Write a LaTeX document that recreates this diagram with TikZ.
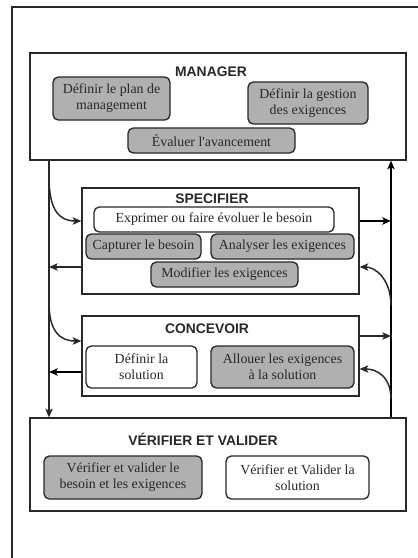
\documentclass[tikz,border=0pt]{standalone}
\usepackage{fontspec}
\setmainfont{Liberation Serif}
\setsansfont{Liberation Sans}
\usetikzlibrary{arrows.meta,calc}

\definecolor{taskgray}{RGB}{176,176,176}
\definecolor{ink}{RGB}{40,40,40}

\tikzset{
  phasebox/.style={draw=ink, line width=0.9pt, rectangle, inner sep=0pt},
  phasetitle/.style={font=\sffamily\bfseries\fontsize{10.4}{12}\selectfont, text=ink, inner sep=0pt},
  task/.style={draw=ink, line width=1pt, rounded corners=4pt, align=center, inner sep=0pt,
    font=\fontsize{10.4}{12}\selectfont, text=ink},
  graytask/.style={task, fill=taskgray},
  whitetask/.style={task, fill=white},
  tip/.style={-{Stealth[length=6.5pt,width=5.5pt,inset=1.5pt]}},
  thinflow/.style={tip, line width=0.9pt, draw=ink},
  thickflow/.style={tip, line width=1.6pt, draw=black},
}

\begin{document}
\begin{tikzpicture}[x=0.75pt,y=-0.75pt]
  \useasboundingbox[fill=white] (0,0) rectangle (418,558);

  % page frame (top and left edges)
  \draw[draw=ink, line width=1.1pt] (12,558) -- (12,7) -- (418,7);

  % helper abscissae of the two vertical flows
  \coordinate (lx) at (49,0);
  \coordinate (rx) at (391,0);

  % MANAGER
  \node[phasebox, minimum width=376*0.75pt, minimum height=107*0.75pt] (manager) at (218,106.5) {};
  \node[phasetitle] (managerT) at (211,72) {MANAGER};
  \node[graytask, minimum width=117*0.75pt, minimum height=43*0.75pt] (plan) at (111.5,98.5)
    {Définir le plan de\\management};
  \node[graytask, minimum width=120*0.75pt, minimum height=42*0.75pt] (gestion) at (308,103)
    {Définir la gestion\\des exigences};
  \node[graytask, minimum width=167*0.75pt, minimum height=25*0.75pt] (evaluer) at (211.5,140.5)
    {Évaluer l\textquotesingle avancement};

  % SPECIFIER
  \node[phasebox, minimum width=277*0.75pt, minimum height=106*0.75pt] (spec) at (220.5,241) {};
  \node[phasetitle] (specT) at (212,199) {SPECIFIER};
  \node[whitetask, minimum width=240*0.75pt, minimum height=25*0.75pt] (exprimer) at (214,219.5)
    {Exprimer ou faire évoluer le besoin};
  \node[graytask, minimum width=115*0.75pt, minimum height=25*0.75pt] (capturer) at (143.5,246.5)
    {Capturer le besoin};
  \node[graytask, minimum width=143*0.75pt, minimum height=25*0.75pt] (analyser) at (282.5,246.5)
    {Analyser les exigences};
  \node[graytask, minimum width=147*0.75pt, minimum height=25*0.75pt] (modifier) at (224.5,274.5)
    {Modifier les exigences};

  % CONCEVOIR
  \node[phasebox, minimum width=277*0.75pt, minimum height=80*0.75pt] (conc) at (220.5,356) {};
  \node[phasetitle] (concT) at (207,329) {CONCEVOIR};
  \node[whitetask, minimum width=111*0.75pt, minimum height=42*0.75pt] (solution) at (141.5,367)
    {Définir la\\solution};
  \node[graytask, minimum width=143*0.75pt, minimum height=42*0.75pt] (allouer) at (282.5,367)
    {Allouer les exigences\\à la solution};

  % VERIFIER ET VALIDER
  \node[phasebox, minimum width=376*0.75pt, minimum height=93*0.75pt] (vv) at (218,464.5) {};
  \node[phasetitle] (vvT) at (203,439) {VÉRIFIER ET VALIDER};
  \node[graytask, minimum width=158*0.75pt, minimum height=43*0.75pt] (vvbesoin) at (123,477.5)
    {Vérifier et valider le\\besoin et les exigences};
  \node[whitetask, minimum width=143*0.75pt, minimum height=43*0.75pt] (vvsol) at (297.5,477.5)
    {Vérifier et Valider la\\solution};

  % branch points on the vertical flows
  \coordinate (lspec) at ($(manager.south -| lx)+(0,16)$);
  \coordinate (lconc) at ($(spec.south -| lx)+(0,8)$);
  \coordinate (rspec) at ($(spec.south -| rx)+(0,11)$);
  \coordinate (rconc) at ($(vv.north -| rx)+(0,-18)$);

  % descending flow on the left, ascending flow on the right
  \draw[thinflow, line width=1pt] (manager.south -| lx) -- (vv.north -| lx);
  \draw[thickflow, line width=1.9pt] (vv.north -| rx) -- (manager.south -| rx);

  % inputs taken from the left flow
  \draw[thinflow, line width=1.1pt] (lspec) .. controls ($(lspec)+(0,34)$) and ($([yshift=15pt]spec.west)+(-22,0)$) .. ([yshift=15pt]spec.west);
  \draw[thinflow, line width=1.1pt] (lconc) .. controls ($(lconc)+(0,28)$) and ($([yshift=11.25pt]conc.west)+(-22,0)$) .. ([yshift=11.25pt]conc.west);

  % outputs returned to the left flow
  \draw[thinflow] ([yshift=-19.5pt]spec.west) -- ([yshift=-19.5pt]spec.west -| lx);
  \draw[thickflow] ([yshift=-12pt]conc.west) -- ([yshift=-12pt]conc.west -| lx);

  % outputs sent to the right flow
  \draw[thickflow] ([yshift=15pt]spec.east) -- ([yshift=15pt]spec.east -| rx);
  \draw[thinflow] ([yshift=15pt]conc.east) -- ([yshift=15pt]conc.east -| rx);

  % inputs taken from the right flow
  \draw[thinflow, line width=1.1pt] (rspec) .. controls ($(rspec)+(0,-26)$) and ($([yshift=-19.5pt]spec.east)+(16,0)$) .. ([yshift=-19.5pt]spec.east);
  \draw[thinflow, line width=1.1pt] (rconc) .. controls ($(rconc)+(0,-24)$) and ($([yshift=-9.75pt]conc.east)+(16,0)$) .. ([yshift=-9.75pt]conc.east);
\end{tikzpicture}
\end{document}
